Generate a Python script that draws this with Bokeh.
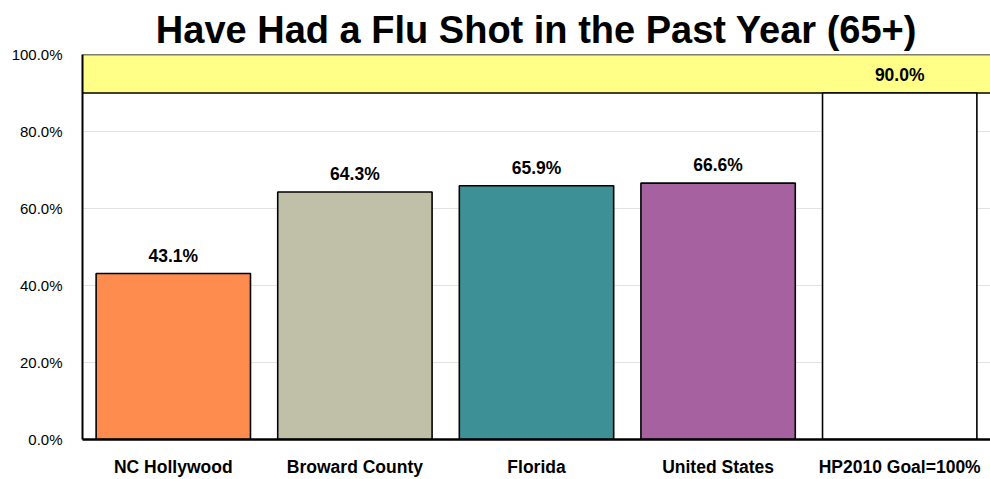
from bokeh.plotting import figure
from bokeh.models import ColumnDataSource, BoxAnnotation, PrintfTickFormatter, FactorRange, Span
from bokeh.embed import file_html
from bokeh.resources import INLINE

categories = ["NC Hollywood", "Broward County", "Florida", "United States", "HP2010 Goal=100%"]
values = [43.1, 64.3, 65.9, 66.6, 90.0]
bar_colors = ["#FF8C4F", "#C0C0A8", "#3C9096", "#A662A0", "#FFFFFF"]
value_labels = ["43.1%", "64.3%", "65.9%", "66.6%", "90.0%"]
goal_band = [90.0, 100.0]
y_ticks = [0, 20, 40, 60, 80, 100]

FONT = "Liberation Sans"

src = ColumnDataSource(dict(cat=categories, val=values, color=bar_colors, lab=value_labels))

p = figure(
    x_range=FactorRange(factors=categories, range_padding=0),
    y_range=(0, 100),
    width=990, height=479,
    output_backend="svg", toolbar_location=None,
    title="Have Had a Flu Shot in the Past Year (65+)",
    min_border_left=82, min_border_right=0, min_border_top=54, min_border_bottom=39,
)
p.title.align = "center"
p.title.text_font = FONT
p.title.text_font_size = "38px"
p.title.text_font_style = "bold"
p.title.text_color = "black"
p.title.standoff = 7
p.title.offset = 0

p.outline_line_color = None
p.background_fill_color = "white"
p.border_fill_color = "white"

band = BoxAnnotation(bottom=goal_band[0], top=goal_band[1], fill_color="#FFFF88", fill_alpha=1.0,
                     line_color=None, level="underlay")
p.add_layout(band)
for loc in goal_band:
    p.add_layout(Span(location=loc, dimension="width", line_color="black", line_width=1.5,
                      level="underlay"))

p.vbar(x="cat", top="val", width=0.85, source=src, fill_color="color",
       line_color="black", line_width=1.6)

p.text(x="cat", y="val", text="lab", source=src, text_align="center", text_baseline="bottom",
       y_offset=-8, text_font=dict(value=FONT), text_font_size="17.5px", text_font_style="bold",
       text_color="black")

p.xgrid.grid_line_color = None
p.ygrid.grid_line_color = "#E3E3E3"
p.ygrid.grid_line_width = 1
p.yaxis.ticker = y_ticks
p.yaxis.formatter = PrintfTickFormatter(format="%.1f%%")
p.yaxis.major_label_text_font = FONT
p.yaxis.major_label_text_font_size = "15px"
p.yaxis.major_label_text_color = "black"
p.yaxis.major_tick_line_color = None
p.yaxis.minor_tick_line_color = None
p.yaxis.major_tick_out = 0
p.yaxis.minor_tick_out = 0
p.yaxis.major_label_standoff = 20
p.yaxis.axis_line_color = "black"
p.yaxis.axis_line_width = 2

p.xaxis.major_label_text_font = FONT
p.xaxis.major_label_text_font_size = "17.5px"
p.xaxis.major_label_text_font_style = "bold"
p.xaxis.major_label_text_color = "black"
p.xaxis.major_tick_line_color = None
p.xaxis.minor_tick_line_color = None
p.xaxis.major_tick_out = 0
p.xaxis.minor_tick_out = 0
p.xaxis.major_label_standoff = 17
p.xaxis.axis_line_color = "black"
p.xaxis.axis_line_width = 2.5

open("out.html", "w").write(file_html(p, INLINE))
